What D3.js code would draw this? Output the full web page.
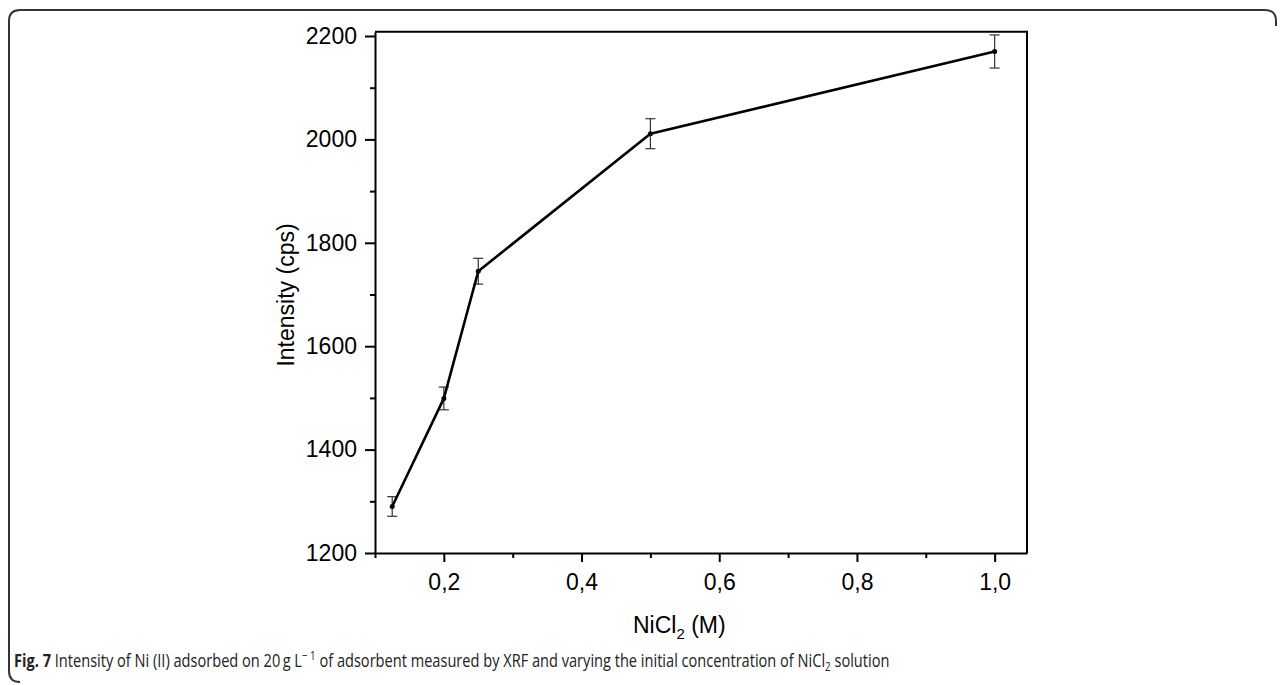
<!DOCTYPE html>
<html>
<head>
<meta charset="utf-8">
<script src="https://cdn.jsdelivr.net/npm/d3@7"></script>
<style>
  body { margin: 0; background: #ffffff; }
  svg { display: block; }
</style>
</head>
<body>
<div id="chart"></div>
<script>
// data
const concentrations = [0.125, 0.2, 0.25, 0.5, 1.0];
const intensity = [1290, 1499, 1745, 2011, 2170];
const errors = [19, 22, 25, 29, 32];
const xMajorTicks = [0.2, 0.4, 0.6, 0.8, 1.0];
const xMinorTicks = [0.1, 0.3, 0.5, 0.7, 0.9];
const yMajorTicks = [1200, 1400, 1600, 1800, 2000, 2200];
const yMinorTicks = [1300, 1500, 1700, 1900, 2100];

const width = 1284;
const height = 685;

const svg = d3.select("#chart")
  .append("svg")
  .attr("width", width)
  .attr("height", height)
  .style("background", "#ffffff");

// figure frame (rounded, open at the bottom/right like the journal box)
svg.append("path")
  .attr("d", "M20,682 Q9,682 9,671 L9,21 Q9,10 20,10 L1265,10 Q1276,10 1276,21 L1276,26")
  .attr("fill", "none")
  .attr("stroke", "#333")
  .attr("stroke-width", 2);

// scales
const x = d3.scaleLinear()
  .domain([0.1, 1.047])
  .range([375, 1027]);

const y = d3.scaleLinear()
  .domain([1200, 2208.3])
  .range([553, 31.7]);

const comma = d3.formatLocale({ decimal: ",", thousands: ".", grouping: [3], currency: ["", ""] }).format(".1f");
const font = "'Liberation Sans', Arial, sans-serif";

// minor ticks
svg.append("g")
  .attr("transform", `translate(0, ${y.range()[0]})`)
  .call(d3.axisBottom(x).tickValues(xMinorTicks).tickSize(5).tickFormat(""))
  .call(g => g.select(".domain").remove())
  .selectAll("line").attr("stroke", "#000").attr("stroke-width", 2);

svg.append("g")
  .attr("transform", `translate(${x.range()[0]}, 0)`)
  .call(d3.axisLeft(y).tickValues(yMinorTicks).tickSize(5).tickFormat(""))
  .call(g => g.select(".domain").remove())
  .selectAll("line").attr("stroke", "#000").attr("stroke-width", 2);

// X axis
const xAxis = svg.append("g")
  .attr("transform", `translate(0, ${y.range()[0]})`)
  .call(d3.axisBottom(x).tickValues(xMajorTicks).tickSize(9).tickSizeOuter(0).tickPadding(12).tickFormat(comma));
xAxis.select(".domain").attr("stroke", "#000").attr("stroke-width", 2);
xAxis.selectAll(".tick line").attr("stroke", "#000").attr("stroke-width", 2);
xAxis.selectAll("text")
  .attr("fill", "#000")
  .style("font-family", font)
  .style("font-size", "23px");

// Y axis
const yAxis = svg.append("g")
  .attr("transform", `translate(${x.range()[0]}, 0)`)
  .call(d3.axisLeft(y).tickValues(yMajorTicks).tickSize(10).tickSizeOuter(0).tickPadding(8).tickFormat(d3.format("d")));
yAxis.select(".domain").attr("stroke", "#000").attr("stroke-width", 2);
yAxis.selectAll(".tick line").attr("stroke", "#000").attr("stroke-width", 2);
yAxis.selectAll("text")
  .attr("fill", "#000")
  .style("font-family", font)
  .style("font-size", "23px");

// top and right border of the plot
svg.append("path")
  .attr("d", `M${x.range()[0]},${y.range()[1]} H${x.range()[1]} V${y.range()[0]}`)
  .attr("fill", "none")
  .attr("stroke", "#000")
  .attr("stroke-width", 2);

// axis labels
svg.append("text")
  .attr("transform", "translate(294, 295) rotate(-90)")
  .attr("text-anchor", "middle")
  .style("font-family", font)
  .style("font-size", "23px")
  .text("Intensity (cps)");

const xLabel = svg.append("text")
  .attr("x", 633)
  .attr("y", 633)
  .style("font-family", font)
  .style("font-size", "23px");
xLabel.append("tspan").text("NiCl");
xLabel.append("tspan").attr("dy", 6).style("font-size", "15px").text("2");
xLabel.append("tspan").attr("dy", -6).text(" (M)");

// points
const points = concentrations.map((c, i) => ({ c, v: intensity[i], e: errors[i] }));

// error bars
const eb = svg.append("g").attr("stroke", "#333").attr("stroke-width", 1.2);
points.forEach(d => {
  eb.append("line")
    .attr("x1", x(d.c)).attr("x2", x(d.c))
    .attr("y1", y(d.v - d.e)).attr("y2", y(d.v + d.e));
  eb.append("line")
    .attr("x1", x(d.c) - 5).attr("x2", x(d.c) + 5)
    .attr("y1", y(d.v - d.e)).attr("y2", y(d.v - d.e));
  eb.append("line")
    .attr("x1", x(d.c) - 5).attr("x2", x(d.c) + 5)
    .attr("y1", y(d.v + d.e)).attr("y2", y(d.v + d.e));
});

// line
svg.append("path")
  .datum(points)
  .attr("fill", "none")
  .attr("stroke", "#000")
  .attr("stroke-width", 2.6)
  .attr("stroke-linejoin", "round")
  .attr("d", d3.line().x(d => x(d.c)).y(d => y(d.v)));

svg.selectAll(".pt")
  .data(points)
  .join("circle")
  .attr("cx", d => x(d.c))
  .attr("cy", d => y(d.v))
  .attr("r", 2.5)
  .attr("fill", "#000");

// caption
const capFont = "'Open Sans', 'Noto Sans', sans-serif";
const capG = svg.append("g").attr("transform", "translate(14, 667)");
const cap = capG.append("text")
  .style("font-family", capFont)
  .style("font-size", "18px")
  .attr("fill", "#222");
cap.append("tspan").style("font-weight", "bold").text("Fig. 7");
cap.append("tspan").text(" Intensity of Ni (II) adsorbed on 20\u2009g L");
cap.append("tspan").attr("dy", -7).style("font-size", "12px").text("\u2212 1");
cap.append("tspan").attr("dy", 7).text(" of adsorbent measured by XRF and varying the initial concentration of NiCl");
cap.append("tspan").attr("dy", 4).style("font-size", "12px").text("2");
cap.append("tspan").attr("dy", -4).text(" solution");

// squeeze caption to the condensed width of the original
const capWidth = cap.node().getComputedTextLength();
capG.attr("transform", `translate(14, 667) scale(${876 / capWidth}, 1)`);
</script>
</body>
</html>
